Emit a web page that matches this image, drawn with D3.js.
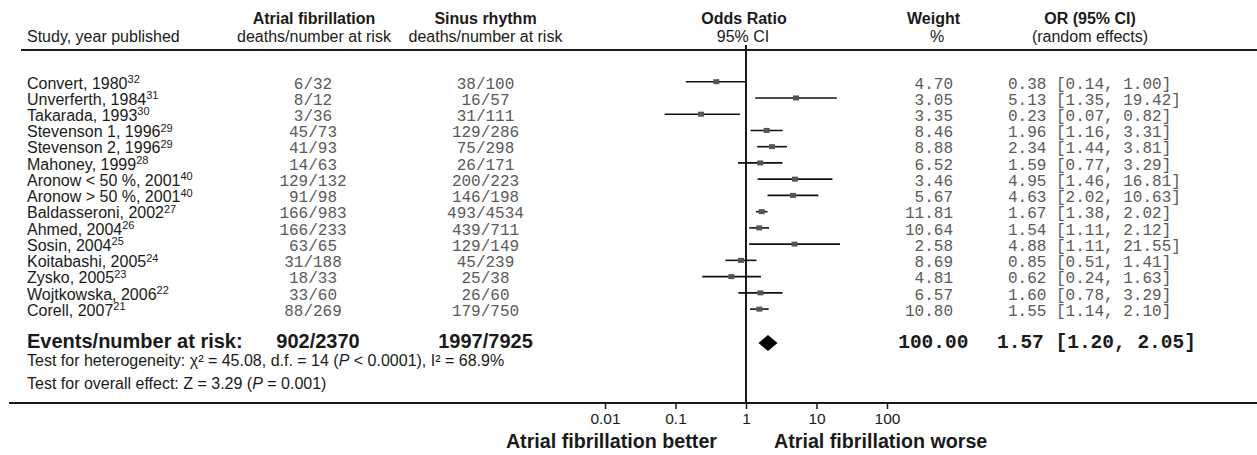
<!DOCTYPE html>
<html>
<head>
<meta charset="utf-8">
<script src="https://cdn.jsdelivr.net/npm/d3@7"></script>
<style>
  html, body { margin: 0; padding: 0; background: #fff; }
  svg { display: block; }
</style>
</head>
<body>
<svg id="chart" width="1257" height="455"></svg>
<script>
// ---------------- data ----------------
const studies = ["Convert, 1980", "Unverferth, 1984", "Takarada, 1993", "Stevenson 1, 1996",
  "Stevenson 2, 1996", "Mahoney, 1999", "Aronow < 50 %, 2001", "Aronow > 50 %, 2001",
  "Baldasseroni, 2002", "Ahmed, 2004", "Sosin, 2004", "Koitabashi, 2005", "Zysko, 2005",
  "Wojtkowska, 2006", "Corell, 2007"];
const refNums = ["32", "31", "30", "29", "29", "28", "40", "40", "27", "26", "25", "24", "23", "22", "21"];
const afEvents = ["6/32", "8/12", "3/36", "45/73", "41/93", "14/63", "129/132", "91/98",
  "166/983", "166/233", "63/65", "31/188", "18/33", "33/60", "88/269"];
const srEvents = ["38/100", "16/57", "31/111", "129/286", "75/298", "26/171", "200/223", "146/198",
  "493/4534", "439/711", "129/149", "45/239", "25/38", "26/60", "179/750"];
const weights = [4.70, 3.05, 3.35, 8.46, 8.88, 6.52, 3.46, 5.67, 11.81, 10.64, 2.58, 8.69, 4.81, 6.57, 10.80];
const oddsRatios = [0.38, 5.13, 0.23, 1.96, 2.34, 1.59, 4.95, 4.63, 1.67, 1.54, 4.88, 0.85, 0.62, 1.60, 1.55];
const ciLow = [0.14, 1.35, 0.07, 1.16, 1.44, 0.77, 1.46, 2.02, 1.38, 1.11, 1.11, 0.51, 0.24, 0.78, 1.14];
const ciHigh = [1.00, 19.42, 0.82, 3.31, 3.81, 3.29, 16.81, 10.63, 2.02, 2.12, 21.55, 1.41, 1.63, 3.29, 2.10];

const totalAF = "902/2370";
const totalSR = "1997/7925";
const totalWeight = 100.00;
const pooledOR = 1.57, pooledLow = 1.20, pooledHigh = 2.05;
const pooledMarkerAt = 2.05; // position where the pooled diamond is drawn in the picture

const tickValues = [0.01, 0.1, 1, 10, 100];
const tickLabels = ["0.01", "0.1", "1", "10", "100"];

const heteroText = ["Test for heterogeneity: \u03C7\u00B2 = 45.08, d.f. = 14 (", "P", " < 0.0001), I\u00B2 = 68.9%"];
const overallText = ["Test for overall effect: Z = 3.29 (", "P", " = 0.001)"];

// ---------------- layout ----------------
const svg = d3.select("#chart");
const sans = "'Liberation Sans', Arial, Helvetica, sans-serif";
const mono = "'Liberation Mono', 'Courier New', monospace";
const ink = "#1a1a1a";
const monoInk = "#5a5a5a";

const x = d3.scaleLog().domain([0.01, 100]).range([605, 887]);
const rowY = d3.scalePoint().domain(d3.range(studies.length)).range([88.5, 315.9]);
const markOffset = 6.8;

const col = { study: 27, af: 313, sr: 485.5, weightRight: 953, orLeft: 1008 };

// header
const headerTop = 24, headerBot = 42;
function hText(t, xPos, y, bold, anchor) {
  svg.append("text").attr("x", xPos).attr("y", y)
    .attr("text-anchor", anchor || "middle")
    .attr("font-family", sans).attr("font-size", 16)
    .attr("font-weight", bold ? "bold" : "normal")
    .attr("fill", ink).text(t);
}
hText("Study, year published", col.study, headerBot, false, "start");
hText("Atrial fibrillation", col.af + 1, headerTop, true);
hText("deaths/number at risk", col.af + 1, headerBot, false);
hText("Sinus rhythm", col.sr, headerTop, true);
hText("deaths/number at risk", col.sr, headerBot, false);
hText("Odds Ratio", 744, headerTop, true);
hText("95% CI", 743, headerBot, false);
hText("Weight", 933.5, headerTop, true);
hText("%", 937, headerBot, false);
hText("OR (95% CI)", 1090, headerTop, true);
hText("(random effects)", 1090, headerBot, false);

// header rule
svg.append("line").attr("x1", 21).attr("x2", 1257).attr("y1", 50).attr("y2", 50)
  .attr("stroke", ink).attr("stroke-width", 2);

// bottom axis rule
const axisY = 403;
svg.append("line").attr("x1", 9).attr("x2", 1257).attr("y1", axisY).attr("y2", axisY)
  .attr("stroke", ink).attr("stroke-width", 2);

// null line at OR = 1
svg.append("line").attr("x1", x(1)).attr("x2", x(1)).attr("y1", 45).attr("y2", axisY)
  .attr("stroke", ink).attr("stroke-width", 2);

// axis ticks
const axis = d3.axisBottom(x).tickValues(tickValues)
  .tickFormat((d, i) => tickLabels[i]).tickSize(6).tickPadding(4);
const axG = svg.append("g").attr("transform", `translate(0,${axisY})`).call(axis);
axG.select(".domain").remove();
axG.selectAll(".tick line").attr("stroke", ink).attr("stroke-width", 1.5);
axG.selectAll(".tick text").attr("font-family", sans).attr("font-size", 15.5).attr("fill", ink);

// rows
const rows = svg.append("g");
studies.forEach((s, i) => {
  const y = rowY(i);
  const t = rows.append("text").attr("x", col.study).attr("y", y)
    .attr("font-family", sans).attr("font-size", 16).attr("fill", ink);
  t.append("tspan").text(s);
  t.append("tspan").attr("font-size", 11).attr("dy", -5.5).text(refNums[i]);

  rows.append("text").attr("x", col.af).attr("y", y).attr("text-anchor", "middle")
    .attr("font-family", mono).attr("font-size", 16).attr("fill", monoInk).text(afEvents[i]);
  rows.append("text").attr("x", col.sr).attr("y", y).attr("text-anchor", "middle")
    .attr("font-family", mono).attr("font-size", 16).attr("fill", monoInk).text(srEvents[i]);
  rows.append("text").attr("x", col.weightRight).attr("y", y).attr("text-anchor", "end")
    .attr("font-family", mono).attr("font-size", 16).attr("fill", monoInk).text(weights[i].toFixed(2));
  rows.append("text").attr("x", col.orLeft).attr("y", y).attr("text-anchor", "start")
    .attr("font-family", mono).attr("font-size", 16).attr("fill", monoInk)
    .text(`${oddsRatios[i].toFixed(2)} [${ciLow[i].toFixed(2)}, ${ciHigh[i].toFixed(2)}]`);

  const my = y - markOffset;
  rows.append("line").attr("x1", x(ciLow[i])).attr("x2", x(ciHigh[i]))
    .attr("y1", my).attr("y2", my).attr("stroke", "#111").attr("stroke-width", 1.6);
  rows.append("rect").attr("x", x(oddsRatios[i]) - 3).attr("y", my - 2.5)
    .attr("width", 6).attr("height", 5).attr("fill", "#555");
});

// totals row
const totY = 348;
svg.append("text").attr("x", col.study).attr("y", totY)
  .attr("font-family", sans).attr("font-size", 20).attr("font-weight", "bold").attr("fill", ink)
  .text("Events/number at risk:");
svg.append("text").attr("x", 318).attr("y", totY).attr("text-anchor", "middle")
  .attr("font-family", sans).attr("font-size", 20).attr("font-weight", "bold").attr("fill", ink)
  .text(totalAF);
svg.append("text").attr("x", col.sr).attr("y", totY).attr("text-anchor", "middle")
  .attr("font-family", sans).attr("font-size", 20).attr("font-weight", "bold").attr("fill", ink)
  .text(totalSR);
svg.append("text").attr("x", 933.3).attr("y", totY).attr("text-anchor", "middle")
  .attr("font-family", mono).attr("font-size", 19.5).attr("font-weight", "bold").attr("fill", ink)
  .text(totalWeight.toFixed(2));
svg.append("text").attr("x", 997).attr("y", totY).attr("text-anchor", "start")
  .attr("font-family", mono).attr("font-size", 19.5).attr("font-weight", "bold").attr("fill", ink)
  .text(`${pooledOR.toFixed(2)} [${pooledLow.toFixed(2)}, ${pooledHigh.toFixed(2)}]`);

// pooled diamond
const dx = x(pooledMarkerAt), dy = 343, hw = 9.5, hh = 8;
svg.append("path")
  .attr("d", `M${dx - hw},${dy} L${dx},${dy - hh} L${dx + hw},${dy} L${dx},${dy + hh} Z`)
  .attr("fill", "#000");

// tests
function mixedText(parts, y) {
  const t = svg.append("text").attr("x", col.study).attr("y", y)
    .attr("font-family", sans).attr("font-size", 16).attr("fill", ink);
  parts.forEach((p, i) => {
    const ts = t.append("tspan").text(p);
    if (i === 1) ts.attr("font-style", "italic");
  });
}
mixedText(heteroText, 366);
mixedText(overallText, 389);

// direction labels
svg.append("text").attr("x", x(1) - 29).attr("y", 448).attr("text-anchor", "end")
  .attr("font-family", sans).attr("font-size", 19.7).attr("font-weight", "bold").attr("fill", ink)
  .text("Atrial fibrillation better");
svg.append("text").attr("x", x(1) + 28).attr("y", 448).attr("text-anchor", "start")
  .attr("font-family", sans).attr("font-size", 19.7).attr("font-weight", "bold").attr("fill", ink)
  .text("Atrial fibrillation worse");
</script>
</body>
</html>
